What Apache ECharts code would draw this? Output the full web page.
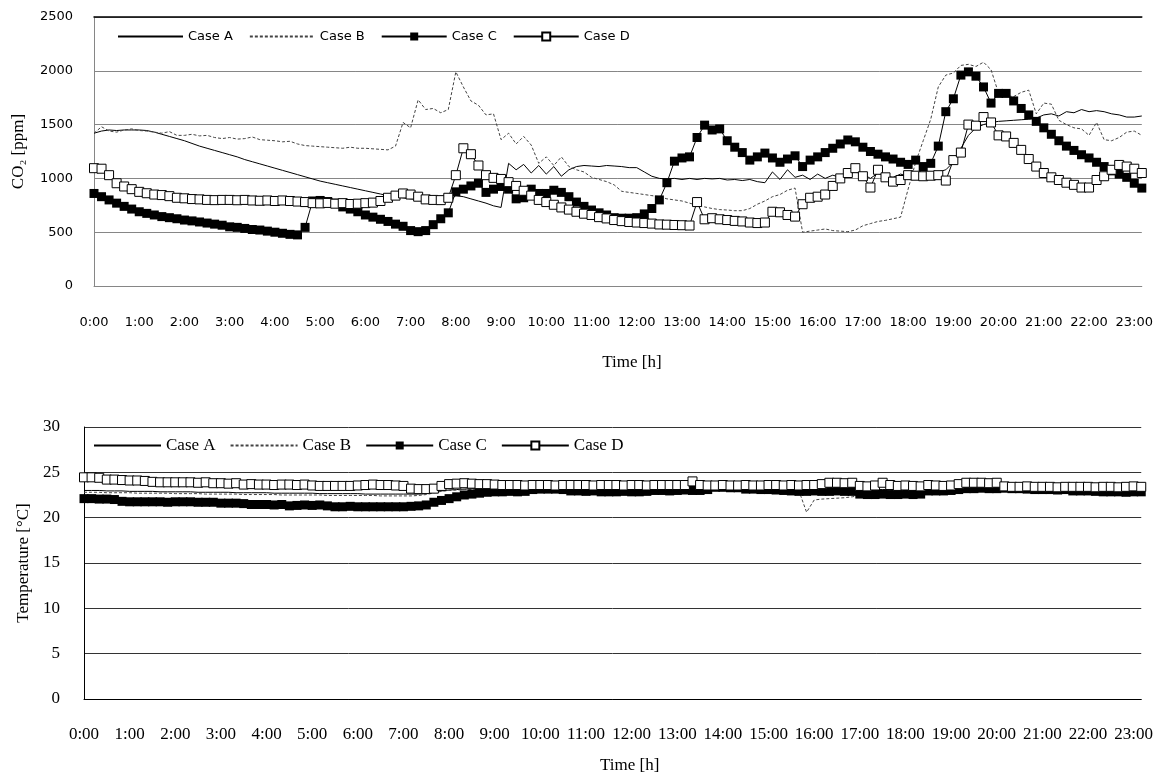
<!DOCTYPE html>
<html>
<head>
<meta charset="utf-8">
<script src="https://cdn.jsdelivr.net/npm/echarts@6/dist/echarts.min.js"></script>
<style>
html, body { margin: 0; padding: 0; background: #fff; }
#chart { width: 1156px; height: 776px; }
</style>
</head>
<body>
<div id="chart"></div>
<script>
// Four cases, logged every 10 minutes from 0:00 to 23:10
const caseNames = ['Case A', 'Case B', 'Case C', 'Case D'];

const times = [];
for (let h = 0; h < 24; h++) {
  for (let m = 0; m < 60; m += 10) {
    if (h === 23 && m > 10) break;
    times.push(h + ':' + (m === 0 ? '00' : String(m)));
  }
}

// CO2 concentration [ppm]
const co2A = [
  1420,1440,1450,1445,1450,1450, 1450,1445,1430,1410,1390,1370,
  1350,1325,1300,1280,1260,1240, 1220,1200,1175,1155,1135,1115,
  1095,1075,1055,1035,1015,995,  975,960,945,930,915,900,
  885,870,855,840,830,820,       810,805,800,795,790,790,
  840,830,810,790,770,745,       730,1140,1080,1130,1050,1120,
  1040,1110,1020,1080,1110,1120, 1115,1110,1120,1115,1110,1100,
  1100,1060,1020,1000,995,1000,  990,1000,990,1000,995,1000,
  985,990,980,990,970,960,       1060,990,1080,1010,1030,990,
  1040,1000,1030,1010,1040,1060, 1040,1000,1050,1020,1010,1040,
  1020,1030,1040,1050,1060,1080, 1150,1280,1400,1470,1500,1520,
  1530,1535,1540,1545,1550,1560, 1590,1600,1580,1620,1610,1640,
  1620,1630,1620,1600,1590,1570, 1570,1580
];
const co2B = [
  1420,1480,1440,1430,1450,1460, 1445,1440,1430,1420,1435,1400,
  1400,1410,1395,1400,1380,1370, 1380,1365,1370,1385,1360,1355,
  1350,1340,1345,1320,1305,1300, 1295,1290,1285,1280,1290,1280,
  1280,1275,1270,1265,1300,1520, 1470,1730,1640,1650,1610,1640,
  1990,1850,1720,1680,1590,1600, 1360,1420,1320,1390,1310,1140,
  1200,1120,1200,1110,1080,1060, 1010,990,970,940,880,870,
  860,850,840,830,810,800,       790,770,750,735,720,710,
  706,700,700,720,760,790,       830,850,890,910,500,510,
  520,530,515,510,505,520,       560,580,600,610,625,640,
  900,1150,1350,1550,1850,1960,  1980,2050,2060,2040,2080,2010,
  1790,1770,1760,1800,1820,1600, 1700,1690,1540,1500,1470,1460,
  1400,1520,1360,1350,1380,1430, 1440,1400
];
const co2C = [
  860,830,800,770,740,715,       690,675,660,645,635,625,
  613,605,595,585,575,565,       550,545,535,525,520,510,
  500,490,480,475,545,790,       795,785,770,735,715,690,
  660,640,620,600,575,555,       515,505,515,570,625,680,
  875,900,930,955,870,900,       925,900,810,820,900,860,
  860,890,870,830,780,740,       706,680,660,635,630,630,
  635,670,720,800,960,1160,      1190,1200,1380,1495,1450,1460,
  1350,1290,1240,1170,1200,1235, 1190,1150,1180,1210,1110,1170,
  1200,1240,1280,1320,1357,1340, 1290,1250,1225,1200,1180,1150,
  1130,1170,1110,1140,1300,1620, 1740,1960,1990,1950,1850,1700,
  1790,1790,1720,1650,1590,1530, 1470,1410,1350,1300,1260,1220,
  1190,1150,1110,1070,1040,1010, 955,910
];
const co2D = [
  1095,1090,1030,955,925,900,    875,862,850,845,835,820,
  815,808,805,800,798,800,       800,797,800,795,792,795,
  790,795,790,785,780,770,       768,772,765,770,762,765,
  770,775,790,820,840,860,       850,830,805,800,798,820,
  1030,1280,1225,1120,1030,1005, 995,965,930,885,840,800,
  780,755,730,710,690,672,       660,640,628,613,603,595,
  590,585,580,572,570,567,       565,562,780,620,630,620,
  613,605,600,590,585,590,       690,685,660,645,760,820,
  830,850,930,1000,1050,1095,    1020,915,1080,1010,970,985,
  1030,1025,1020,1025,1030,980,  1170,1240,1500,1490,1570,1520,
  1400,1390,1330,1265,1180,1110, 1050,1010,985,960,940,915,
  915,985,1020,1080,1125,1110,   1090,1050
];

// Indoor air temperature [°C]
const tempA = [
  23.0,23.0,23.0,22.95,22.95,22.95,22.9,22.9,22.9,22.9,22.85,22.85,
  22.85,22.85,22.85,22.8,22.8,22.8,22.8,22.8,22.75,22.75,22.75,22.75,
  22.75,22.7,22.7,22.7,22.7,22.7,22.7,22.65,22.65,22.65,22.65,22.65,
  22.65,22.6,22.6,22.6,22.6,22.6,22.6,22.6,22.6,22.65,22.8,22.95,
  23.05,23.1,23.15,23.2,23.2,23.25,23.25,23.3,23.3,23.3,23.3,23.35,
  23.35,23.35,23.3,23.3,23.3,23.3,23.25,23.25,23.25,23.25,23.3,23.3,
  23.3,23.3,23.3,23.35,23.35,23.35,23.35,23.4,23.4,23.4,23.45,23.45,
  23.45,23.4,23.4,23.4,23.35,23.35,23.35,23.3,23.3,23.3,23.25,23.2,
  23.2,23.15,23.15,23.15,23.1,23.1,23.1,23.1,23.1,23.1,23.1,23.05,
  23.05,23.05,23.1,23.1,23.1,23.15,23.2,23.25,23.3,23.3,23.35,23.35,
  23.35,23.35,23.3,23.3,23.3,23.25,23.25,23.2,23.2,23.2,23.15,23.15,
  23.15,23.1,23.1,23.1,23.05,23.05,23.05,23.0
];
const tempB = [
  22.8,22.8,22.8,22.75,22.75,22.75,22.75,22.7,22.7,22.7,22.7,22.7,
  22.65,22.65,22.65,22.65,22.6,22.6,22.6,22.6,22.6,22.55,22.55,22.55,
  22.55,22.55,22.5,22.5,22.5,22.5,22.5,22.5,22.45,22.45,22.45,22.45,
  22.45,22.45,22.45,22.4,22.4,22.4,22.4,22.4,22.45,22.55,22.75,22.9,
  23.0,23.05,23.1,23.1,23.15,23.15,23.2,23.2,23.2,23.25,23.25,23.25,
  23.25,23.25,23.2,23.2,23.2,23.2,23.2,23.15,23.15,23.15,23.2,23.2,
  23.2,23.2,23.2,23.25,23.25,23.25,23.3,23.3,23.3,23.3,23.35,23.35,
  23.35,23.3,23.3,23.3,23.25,23.2,23.15,23.1,23.05,23.0,22.95,20.6,
  21.95,22.05,22.1,22.15,22.2,22.3,22.45,22.6,22.8,22.9,22.95,23.0,
  23.0,23.0,23.05,23.05,23.1,23.1,23.15,23.15,23.2,23.2,23.25,23.25,
  23.25,23.25,23.2,23.2,23.2,23.15,23.15,23.15,23.1,23.1,23.1,23.05,
  23.05,23.05,23.0,23.0,23.0,23.0,22.95,22.95
];
const tempC = [
  22.1,22.1,22.05,22.05,22.0,21.8,21.75,21.75,21.75,21.75,21.75,21.7,
  21.75,21.75,21.75,21.7,21.7,21.7,21.6,21.6,21.6,21.55,21.45,21.45,
  21.45,21.4,21.45,21.3,21.35,21.4,21.35,21.4,21.3,21.2,21.2,21.25,
  21.2,21.2,21.2,21.2,21.2,21.2,21.2,21.25,21.3,21.4,21.7,21.9,
  22.1,22.3,22.5,22.6,22.7,22.8,22.85,22.85,22.9,22.85,22.9,23.1,
  23.15,23.15,23.15,23.1,22.95,22.95,22.9,22.95,22.85,22.85,22.85,22.9,
  22.85,22.85,22.9,23.0,23.0,22.95,23.0,23.05,23.0,23.0,23.1,23.35,
  23.35,23.3,23.3,23.15,23.15,23.1,23.1,23.05,23.0,22.95,22.9,22.9,
  22.95,22.9,22.9,22.95,22.9,22.9,22.6,22.55,22.55,22.6,22.55,22.55,
  22.6,22.55,22.6,22.95,22.95,22.95,23.0,23.1,23.2,23.2,23.25,23.2,
  23.2,23.25,23.2,23.2,23.15,23.1,23.1,23.1,23.05,23.1,22.95,22.95,
  22.95,22.9,22.85,22.85,22.85,22.8,22.85,22.85
];
const tempD = [
  24.45,24.45,24.4,24.2,24.2,24.15,24.1,24.1,24.05,23.95,23.9,23.9,
  23.9,23.9,23.9,23.85,23.9,23.8,23.8,23.75,23.8,23.65,23.7,23.65,
  23.65,23.6,23.65,23.65,23.6,23.65,23.55,23.5,23.5,23.5,23.5,23.5,
  23.55,23.6,23.65,23.6,23.6,23.55,23.5,23.2,23.15,23.15,23.2,23.5,
  23.7,23.75,23.8,23.75,23.7,23.7,23.65,23.6,23.6,23.6,23.55,23.6,
  23.6,23.6,23.55,23.6,23.6,23.6,23.6,23.55,23.6,23.6,23.6,23.55,
  23.6,23.6,23.55,23.6,23.6,23.6,23.6,23.6,24.0,23.6,23.55,23.55,
  23.6,23.55,23.55,23.6,23.55,23.55,23.6,23.6,23.55,23.6,23.55,23.6,
  23.6,23.7,23.85,23.85,23.8,23.85,23.5,23.45,23.55,23.85,23.6,23.5,
  23.55,23.5,23.45,23.6,23.55,23.5,23.55,23.7,23.85,23.85,23.85,23.8,
  23.85,23.45,23.4,23.4,23.45,23.4,23.4,23.4,23.35,23.4,23.4,23.4,
  23.4,23.35,23.4,23.4,23.35,23.4,23.45,23.4
];

const SANS = 'DejaVu Sans';
const SERIF = 'Liberation Serif';
const CLEAR = 'rgba(0,0,0,0)';

// Line styles for each case; A and B are plain lines without markers
const caseStyles = [
  { symbol: 'rect', showSymbol: false, lineStyle: { color: '#000', width: 1 },
    itemStyle: { color: CLEAR, borderColor: CLEAR } },
  { symbol: 'rect', showSymbol: false, lineStyle: { color: '#444', width: 1, type: [3, 2] },
    itemStyle: { color: CLEAR, borderColor: CLEAR } },
  { symbol: 'rect', lineStyle: { color: '#000', width: 1 }, itemStyle: { color: '#000' } },
  { symbol: 'rect', lineStyle: { color: '#000', width: 1 },
    itemStyle: { color: '#fff', borderColor: '#000', borderWidth: 1 } }
];

function makeSeries(datasets, axisIndex, symbolSize) {
  return datasets.map((data, k) => Object.assign({
    name: caseNames[k],
    type: 'line',
    xAxisIndex: axisIndex,
    yAxisIndex: axisIndex,
    data: data,
    symbolSize: symbolSize,
    showAllSymbol: true,
    animation: false,
    emphasis: { disabled: true }
  }, caseStyles[k]));
}

const chart = echarts.init(document.getElementById('chart'), null, { renderer: 'canvas' });

chart.setOption({
  backgroundColor: '#fff',
  animation: false,
  grid: [
    { left: 94, right: 8, top: 17, height: 269 },
    { left: 84, right: 5, top: 427, height: 272 }
  ],
  legend: [
    {
      data: caseNames, left: 112, top: 25, itemWidth: 65, itemHeight: 10, itemGap: 16,
      textStyle: { fontFamily: SANS, fontSize: 13, color: '#000' }
    },
    {
      data: caseNames, left: 88, top: 432, itemWidth: 67, itemHeight: 10, itemGap: 14,
      textStyle: { fontFamily: SERIF, fontSize: 17, color: '#000' }
    }
  ],
  xAxis: [
    {
      gridIndex: 0, type: 'category', data: times, boundaryGap: false,
      axisLine: { lineStyle: { color: '#868686', width: 1 } },
      axisTick: { show: false },
      axisLabel: { interval: 5, margin: 30, fontFamily: SANS, fontSize: 13, color: '#000' },
      splitLine: { show: false },
      name: 'Time [h]', nameLocation: 'middle', nameGap: 68,
      nameTextStyle: { fontFamily: SERIF, fontSize: 17, color: '#000', padding: [0, 0, 0, 28] }
    },
    {
      gridIndex: 1, type: 'category', data: times, boundaryGap: false,
      axisLine: { lineStyle: { color: '#000', width: 1 } },
      axisTick: { show: false },
      axisLabel: { interval: 5, margin: 27, fontFamily: SERIF, fontSize: 17, color: '#000' },
      splitLine: { show: false },
      name: 'Time [h]', nameLocation: 'middle', nameGap: 58,
      nameTextStyle: { fontFamily: SERIF, fontSize: 17, color: '#000', padding: [0, 0, 0, 34] }
    },
    {
      // dark upper frame line of the CO2 panel
      gridIndex: 0, type: 'category', data: times, boundaryGap: false, position: 'top',
      axisLine: { lineStyle: { color: '#000', width: 1.5 } },
      axisTick: { show: false }, axisLabel: { show: false }, splitLine: { show: false }
    }
  ],
  yAxis: [
    {
      gridIndex: 0, type: 'value', min: 0, max: 2500, interval: 500,
      axisLine: { show: true, lineStyle: { color: '#868686', width: 1 } },
      axisTick: { show: false },
      axisLabel: { margin: 21, fontFamily: SANS, fontSize: 13, color: '#000',
        formatter: v => String(v) },
      splitLine: { lineStyle: { color: '#868686', width: 1 } },
      name: 'CO₂ [ppm]', nameLocation: 'middle', nameGap: 67,
      nameTextStyle: { fontFamily: SERIF, fontSize: 17, color: '#000' }
    },
    {
      gridIndex: 1, type: 'value', min: 0, max: 30, interval: 5,
      axisLine: { show: true, lineStyle: { color: '#000', width: 1 } },
      axisTick: { show: false },
      axisLabel: { margin: 24, fontFamily: SERIF, fontSize: 17, color: '#000' },
      splitLine: { lineStyle: { color: '#333', width: 1 } },
      name: 'Temperature [°C]', nameLocation: 'middle', nameGap: 47,
      nameTextStyle: { fontFamily: SERIF, fontSize: 17, color: '#000' }
    }
  ],
  series: [].concat(
    makeSeries([co2A, co2B, co2C, co2D], 0, 9),
    makeSeries([tempA, tempB, tempC, tempD], 1, 9)
  )
});
</script>
</body>
</html>
